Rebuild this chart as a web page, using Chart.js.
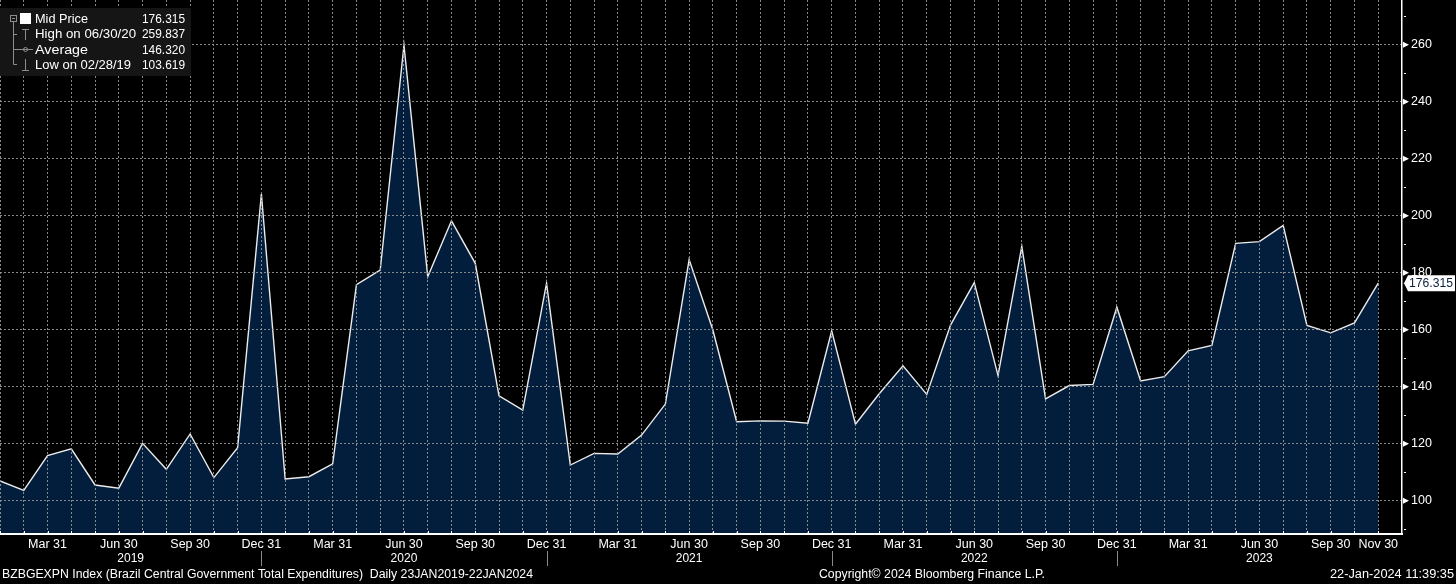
<!DOCTYPE html>
<html><head><meta charset="utf-8">
<script src="https://cdn.jsdelivr.net/npm/chart.js@4.4.1/dist/chart.umd.min.js"></script>
<style>html,body{margin:0;padding:0;background:#000;overflow:hidden}canvas{display:block}</style>
</head><body><canvas id="c" width="1456" height="584"></canvas>
<script>
const dates = [
 '2019-01-31','2019-02-28','2019-03-31','2019-04-30','2019-05-31','2019-06-30','2019-07-31','2019-08-31','2019-09-30','2019-10-31','2019-11-30','2019-12-31',
 '2020-01-31','2020-02-29','2020-03-31','2020-04-30','2020-05-31','2020-06-30','2020-07-31','2020-08-31','2020-09-30','2020-10-31','2020-11-30','2020-12-31',
 '2021-01-31','2021-02-28','2021-03-31','2021-04-30','2021-05-31','2021-06-30','2021-07-31','2021-08-31','2021-09-30','2021-10-31','2021-11-30','2021-12-31',
 '2022-01-31','2022-02-28','2022-03-31','2022-04-30','2022-05-31','2022-06-30','2022-07-31','2022-08-31','2022-09-30','2022-10-31','2022-11-30','2022-12-31',
 '2023-01-31','2023-02-28','2023-03-31','2023-04-30','2023-05-31','2023-06-30','2023-07-31','2023-08-31','2023-09-30','2023-10-31','2023-11-30'
];
const values = [
 106.9,103.619,115.8,118.2,105.5,104.4,120.1,111.0,123.4,108.1,118.6,207.6,
 107.6,108.4,112.9,175.8,180.9,259.837,178.6,198.2,183.3,136.8,131.8,176.3,
 112.5,116.6,116.4,123.0,133.9,184.6,159.9,127.7,128.0,127.9,127.2,159.6,
 126.8,137.5,147.3,137.3,161.6,176.5,143.9,189.2,135.7,140.4,140.8,167.9,
 142.0,143.5,152.6,154.5,190.3,190.9,196.6,161.5,158.9,162.4,176.315
];
const yTickValues = [100,120,140,160,180,200,220,240,260];
const monthNames = ['Jan','Feb','Mar','Apr','May','Jun','Jul','Aug','Sep','Oct','Nov','Dec'];
const yearLabels = ['2019','2020','2021','2022','2023'];
const legendRows = [['Mid Price','176.315'],['High on 06/30/20','259.837'],['Average','146.320'],['Low on 02/28/19','103.619']];
const lastValueText = '176.315';
const footerLeft = 'BZBGEXPN Index (Brazil Central Government Total Expenditures)  Daily 23JAN2019-22JAN2024';
const footerCenter = 'Copyright\u00A9 2024 Bloomberg Finance L.P.';
const footerRight = '22-Jan-2024 11:39:35';

const FONT = "'Liberation Sans', Arial, sans-serif";
const GRID = 'rgba(150,150,150,0.9)';

function fitText(ctx, text, x, y, width) {
  const w = ctx.measureText(text).width;
  ctx.save();
  ctx.translate(x, y);
  ctx.scale(width / w, 1);
  ctx.textAlign = 'left';
  ctx.fillText(text, 0, 0);
  ctx.restore();
}

const decor = {
  id: 'decor',
  afterDraw(chart) {
    const ctx = chart.ctx, x = chart.scales.x, y = chart.scales.y, a = chart.chartArea;
    ctx.save();
    // x month tick marks
    ctx.strokeStyle = '#fff'; ctx.lineWidth = 1;
    for (let i = 0; i < dates.length; i++) {
      const px = Math.round(x.getPixelForValue(i)) + 0.5;
      ctx.beginPath(); ctx.moveTo(px, a.bottom - 3); ctx.lineTo(px, a.bottom); ctx.stroke();
    }
    // y arrows & minor ticks
    ctx.fillStyle = '#fff';
    yTickValues.forEach(v => {
      const py = y.getPixelForValue(v);
      ctx.beginPath(); ctx.moveTo(a.right + 1, py - 3); ctx.lineTo(a.right + 7, py); ctx.lineTo(a.right + 1, py + 3); ctx.closePath(); ctx.fill();
    });
    for (let v = 90; v <= 270; v += 20) {
      const py = Math.round(y.getPixelForValue(v));
      ctx.fillRect(a.right + 2, py, 2, 1);
    }
    // years
    ctx.font = '12px ' + FONT; ctx.textAlign = 'center'; ctx.textBaseline = 'middle'; ctx.fillStyle = '#fff';
    const decIdx = [];
    dates.forEach((d, i) => { if (d.slice(5, 7) === '12') decIdx.push(i); });
    yearLabels.forEach((yr, k) => {
      const s = k === 0 ? a.left : x.getPixelForValue(decIdx[k - 1]);
      const e = k < decIdx.length ? x.getPixelForValue(decIdx[k]) : a.right;
      ctx.fillText(yr, (s + e) / 2, 559);
    });
    ctx.strokeStyle = '#8a8a8a';
    decIdx.forEach(i => {
      const px = Math.round(x.getPixelForValue(i)) + 0.5;
      ctx.beginPath(); ctx.moveTo(px, 551); ctx.lineTo(px, 566); ctx.stroke();
    });
    // footer
    ctx.font = '12px ' + FONT; ctx.textBaseline = 'middle'; ctx.fillStyle = '#fff';
    fitText(ctx, footerLeft, 2, 575, 531);
    fitText(ctx, footerCenter, 819, 575, 226);
    fitText(ctx, footerRight, 1330, 575, 124);
    // last value box
    const lv = values[values.length - 1];
    const py = y.getPixelForValue(lv);
    ctx.fillStyle = '#fff';
    ctx.beginPath();
    ctx.moveTo(a.right + 2, py); ctx.lineTo(a.right + 6, py - 8); ctx.lineTo(1455, py - 8); ctx.lineTo(1455, py + 8); ctx.lineTo(a.right + 6, py + 8); ctx.closePath(); ctx.fill();
    ctx.fillStyle = '#0b1f3a'; ctx.font = '12.5px ' + FONT; ctx.textAlign = 'left';
    fitText(ctx, lastValueText, 1409, py + 0.5, 44);
    // legend
    ctx.fillStyle = '#151515'; ctx.fillRect(0, 8, 191, 68);
    ctx.fillStyle = '#fff'; ctx.fillRect(20, 13, 11, 11);
    ctx.strokeStyle = '#8c8c8c'; ctx.lineWidth = 1;
    ctx.strokeRect(10.5, 15.5, 6, 6);
    ctx.beginPath(); ctx.moveTo(12, 18.5); ctx.lineTo(15, 18.5);
    ctx.moveTo(13.5, 22); ctx.lineTo(13.5, 64.5);
    ctx.moveTo(13.5, 34.5); ctx.lineTo(17, 34.5);
    ctx.moveTo(13.5, 64.5); ctx.lineTo(17, 64.5);
    ctx.moveTo(22, 29.5); ctx.lineTo(29, 29.5); ctx.moveTo(25.5, 29.5); ctx.lineTo(25.5, 40);
    ctx.moveTo(13.5, 49.5); ctx.lineTo(33, 49.5);
    ctx.moveTo(25.5, 59); ctx.lineTo(25.5, 70); ctx.moveTo(22, 70.5); ctx.lineTo(29, 70.5);
    ctx.stroke();
    ctx.beginPath(); ctx.arc(25.5, 49.5, 2, 0, Math.PI * 2); ctx.stroke();
    ctx.fillStyle = '#fff'; ctx.font = '13px ' + FONT; ctx.textAlign = 'left'; ctx.textBaseline = 'middle';
    const rowsY = [19.5, 34.5, 50, 65];
    const labelW = [53, 101, 53, 96];
    legendRows.forEach((r, i) => { fitText(ctx, r[0], 35, rowsY[i], labelW[i]); fitText(ctx, r[1], 142, rowsY[i], 43); });
    ctx.restore();
  }
};

new Chart(document.getElementById('c'), {
  type: 'line',
  data: {
    datasets: [{
      data: values.map((v, i) => ({ x: i, y: v })),
      borderColor: '#ececec', borderWidth: 1.4,
      backgroundColor: '#031e3d', fill: 'start',
      pointRadius: 0, tension: 0
    }]
  },
  options: {
    responsive: false, animation: false, devicePixelRatio: 1,
    layout: { padding: 0 },
    plugins: { legend: { display: false }, tooltip: { enabled: false } },
    scales: {
      x: {
        type: 'linear', min: 0, max: 59,
        afterBuildTicks: s => { s.ticks = dates.map((d, i) => ({ value: i })); },
        afterFit: s => { s.height = 50; s.paddingLeft = 0; s.paddingRight = 0; },
        grid: { color: GRID, lineWidth: 1, drawTicks: false, z: 1 },
        border: { color: '#fff', width: 2, dash: [2, 2], z: 2 },
        ticks: {
          autoSkip: false, maxRotation: 0, padding: 3, color: '#fff',
          font: { size: 12.5, family: FONT },
          callback: v => {
            const d = dates[v]; if (!d) return '';
            const m = +d.slice(5, 7);
            if ([3, 6, 9, 12].includes(m) || v === dates.length - 1) return monthNames[m - 1] + ' ' + d.slice(8, 10);
            return '';
          }
        }
      },
      y: {
        position: 'right', min: 88.3, max: 275.7,
        afterBuildTicks: s => { s.ticks = yTickValues.map(v => ({ value: v })); },
        afterFit: s => { s.width = 54; s.paddingTop = 0; s.paddingBottom = 0; },
        grid: { color: GRID, lineWidth: 1, drawTicks: false, z: 1 },
        border: { color: '#fff', width: 1.5, dash: [2, 2], z: 2 },
        ticks: { padding: 9, color: '#fff', font: { size: 12.5, family: FONT }, callback: v => String(v) }
      }
    }
  },
  plugins: [decor]
});
</script>
</body></html>
